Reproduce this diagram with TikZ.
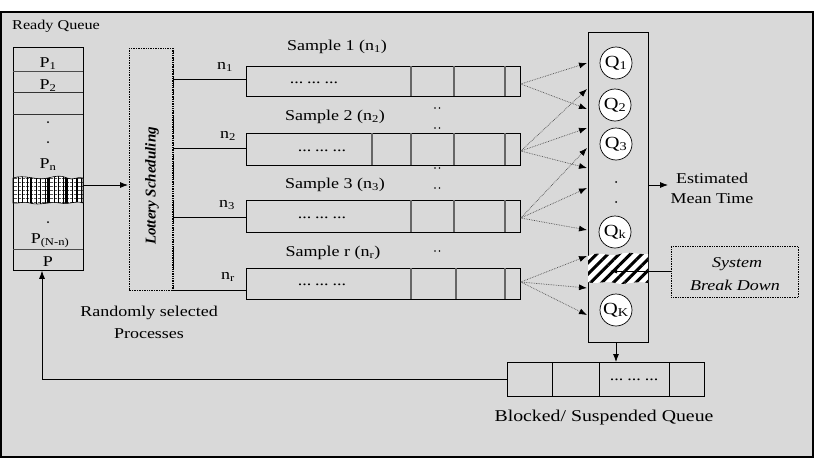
\documentclass[tikz,border=0pt]{standalone}
\usepackage{fontspec}
\setmainfont[FakeStretch=1.2]{Liberation Serif}
\newfontfamily\plainserif{Liberation Serif}
\usetikzlibrary{arrows.meta,patterns.meta}
\definecolor{bg}{RGB}{217,217,217}
\newcommand{\dotgroups}{...\hspace{4pt}...\hspace{4pt}...}
\begin{document}
\begin{tikzpicture}[x=1pt,y=-1pt,
  lbl/.style={inner sep=0pt, font=\fontsize{15}{17}\selectfont},
  qlbl/.style={circle, draw, fill=white, line width=0.7pt, minimum size=32pt, inner sep=0pt, font=\fontsize{17}{19}\selectfont},
  box/.style={draw, line width=0.8pt, inner sep=0pt, anchor=north west},
  div/.style={line width=1.1pt, draw=black!60},
  thin/.style={line width=0.8pt},
  flow/.style={densely dotted, line width=0.7pt, draw=black!70, -{Latex[length=8pt,width=6pt,color=black]}},
  arr/.style={line width=0.8pt, -{Latex[length=8pt,width=6pt]}}]
\useasboundingbox (0,0) rectangle (819,466);
\fill[white] (0,0) rectangle (819,466);
\draw[line width=1.6pt, fill=bg] (1,12) rectangle (813,457);

% Ready queue
\node[box, fill=bg, minimum width=70pt, minimum height=223pt] (rq) at (13,47) {};
\draw[thin, black!70] (13,71) -- (83,71);
\draw[thin, black!80] (13,92) -- (83,92);
\draw[thin, black!80] (13,114) -- (83,114);
\draw[thin, black!70] (13,249) -- (83,249);
\node[lbl, anchor=base] (p1) at (48,67) {P\textsubscript{1}};
\node[lbl, anchor=base] (p2) at (48,89) {P\textsubscript{2}};
\node[lbl, anchor=base] (pn) at (48,168) {P\textsubscript{n}};
\node[lbl, anchor=base] (pnn) at (50,243) {P\textsubscript{(N-n)}};
\node[lbl, anchor=base] (pp) at (48,266) {P};
\node[lbl, anchor=base west, font=\fontsize{13.5}{15}\selectfont] (rqlabel) at (12,29) {Ready Queue};
\fill (48,122) circle (1); \fill (48,142) circle (1); \fill (48,222) circle (1);
% hatched band
\def\bandA{(13,178) .. controls (25,174) and (36,181) .. (48,178) .. controls (56,176) and (61,175) .. (67,178) .. controls (73,181) and (78,176) .. (83,178) -- (83,203) .. controls (75,200) and (70,205) .. (60,203) .. controls (50,201) and (40,206) .. (30,203) .. controls (22,201) and (18,204) .. (13,203) -- cycle}
\fill[white] \bandA;
\path[pattern={Lines[angle=0,distance=4pt,line width=0.7pt]}] \bandA;
\path[pattern={Lines[angle=90,distance=4.5pt,line width=0.7pt]}] \bandA;
\begin{scope}
\clip \bandA;
\draw[line width=1.4pt] (31,170) -- (31,210) (48,170) -- (48,210) (66,170) -- (66,210) (77,170) -- (77,210);
\end{scope}
\draw[line width=0.6pt] \bandA;

% lottery scheduling
\draw[densely dotted, line width=0.7pt] (129,48) rectangle (173,290);
\draw[densely dotted, line width=1.3pt] (173,48) -- (173,290);
\node[rotate=90, inner sep=0pt, font=\plainserif\bfseries\itshape\fontsize{15}{17}\selectfont] (lot) at (152,186) {Lottery Scheduling};
\coordinate (rqout) at (83,185);
\coordinate (lotin) at (128,185);
\draw[arr] (rqout) -- (lotin);

% sample boxes
\node[box, minimum width=274pt, minimum height=30pt] (s1) at (246,66) {};
\node[box, minimum width=274pt, minimum height=32pt] (s2) at (246,133) {};
\node[box, minimum width=274pt, minimum height=32pt] (s3) at (246,200) {};
\node[box, minimum width=274pt, minimum height=31pt] (sr) at (246,268) {};
\draw[div] (411,66) -- (411,96) (454,66) -- (454,96) (505,66) -- (505,96);
\draw[div] (372,133) -- (372,165) (411,133) -- (411,165) (454,133) -- (454,165) (505,133) -- (505,165);
\draw[div] (411,200) -- (411,232) (454,200) -- (454,232) (505,200) -- (505,232);
\draw[div] (411,268) -- (411,299) (456,268) -- (456,299) (505,268) -- (505,299);
\node[lbl] (d1) at (314,83) {\dotgroups};
\node[lbl] (d2) at (322,151) {\dotgroups};
\node[lbl] (d3) at (322,218) {\dotgroups};
\node[lbl] (dr) at (322,285) {\dotgroups};
\node[lbl] (t1) at (337,47) {Sample 1 (n\textsubscript{1})};
\node[lbl] (t2) at (335,117) {Sample 2 (n\textsubscript{2})};
\node[lbl] (t3) at (335,185) {Sample 3 (n\textsubscript{3})};
\node[lbl] (tr) at (333,253) {Sample r (n\textsubscript{r})};
\node[lbl] (n1) at (225,67) {n\textsubscript{1}};
\node[lbl] (n2) at (228,136) {n\textsubscript{2}};
\node[lbl] (n3) at (227,205) {n\textsubscript{3}};
\node[lbl] (nr) at (228,277) {n\textsubscript{r}};
\coordinate (l1) at (173,79); \coordinate (l2) at (173,148);
\coordinate (l3) at (173,217); \coordinate (l4) at (173,290);
\draw[thin] (l1) -- (s1.west |- l1);
\draw[thin] (l2) -- (s2.west |- l2);
\draw[thin] (l3) -- (s3.west |- l3);
\draw[thin] (l4) -- (sr.west |- l4);
\foreach \yy in {108,128,168,188,251} {\fill (435,\yy) circle (0.9); \fill (439.5,\yy) circle (0.9);}

% column of Q
\node[box, fill=bg, minimum width=60pt, minimum height=310pt] (col) at (588,32) {};
\def\bandB{(588,256) .. controls (600,250) and (610,258) .. (620,254) .. controls (630,251) and (640,255) .. (648,254) -- (648,283) .. controls (635,280) and (625,286) .. (615,283) .. controls (605,280) and (595,285) .. (588,282) -- cycle}
\fill[white] \bandB;
\path[pattern={Lines[angle=45,distance=8pt,line width=3pt]}] \bandB;
\node[qlbl] (q1) at (616,63) {Q\textsubscript{1}};
\node[qlbl] (q2) at (615,105) {Q\textsubscript{2}};
\node[qlbl] (q3) at (616,144) {Q\textsubscript{3}};
\node[qlbl] (qk) at (615,232) {Q\textsubscript{k}};
\node[qlbl] (qK) at (616,310) {Q\textsubscript{K}};
\fill (616,182) circle (1); \fill (616,202) circle (1);

% flows
\coordinate (a1) at (s1.east |- 0,84); \coordinate (a2) at (s2.east |- 0,151);
\coordinate (a3) at (s3.east |- 0,218); \coordinate (a4) at (sr.east |- 0,282);
\foreach \ty in {63,109} {\draw[flow] (a1) -- (587,\ty);}
\foreach \ty in {89,128,168} {\draw[flow] (a2) -- (587,\ty);}
\foreach \ty in {148,188,230} {\draw[flow] (a3) -- (587,\ty);}
\foreach \ty in {256,288,315} {\draw[flow] (a4) -- (587,\ty);}

% estimated mean time
\coordinate (eo) at (648,185); \coordinate (ei) at (668,185);
\draw[arr] (eo) -- (ei);
\node[lbl] (est1) at (712,178) {Estimated};
\node[lbl] (est2) at (712,199) {Mean Time};

% system break down
\node[draw, densely dotted, line width=0.7pt, minimum width=127pt, minimum height=51pt, anchor=north west, inner sep=0pt] (sbd) at (671,246) {};
\node[lbl, font=\itshape\fontsize{15}{17}\selectfont] (sbd1) at (737,264) {System};
\node[lbl, font=\itshape\fontsize{15}{17}\selectfont] (sbd2) at (735,285) {Break Down};
\coordinate (bp) at (610,271);
\draw[thin, -{Latex[length=7pt,width=5pt]}] (sbd.west |- bp) -- (bp);

% blocked queue
\node[box, fill=bg, minimum width=197pt, minimum height=34pt] (bq) at (507,362) {};
\draw[thin] (552,362) -- (552,396) (599,362) -- (599,396) (669,362) -- (669,396);
\node[lbl] (bqd) at (634,380) {\dotgroups};
\draw[arr] (col.south -| 616,0) -- (616,362);
\node[lbl, font=\fontsize{16.5}{18}\selectfont] (bql) at (604,418) {Blocked/ Suspended Queue};
\coordinate (ret) at (42,379);
\draw[arr] (bq.west |- ret) -- (ret) -- (rq.south -| ret);

\node[lbl] (rs1) at (149,313) {Randomly selected};
\node[lbl] (rs2) at (149,334) {Processes};
\end{tikzpicture}
\end{document}
